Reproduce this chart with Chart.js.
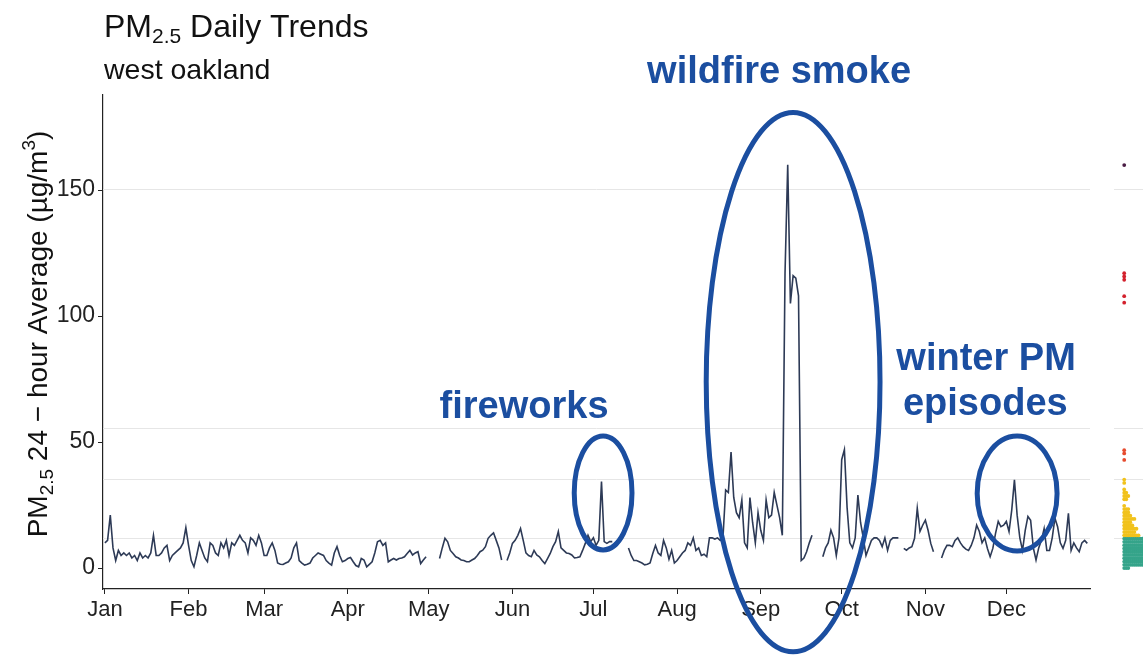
<!DOCTYPE html>
<html lang="en">
<head>
  <meta charset="UTF-8">
  <title>PM2.5 Daily Trends</title>
  <script src="https://cdn.jsdelivr.net/npm/chart.js"></script>
  <style>
    html, body { margin: 0; padding: 0; background: #fff; overflow: hidden; }
    #wrap { position: relative; width: 1147px; height: 655px; }
    #mainChart { position: absolute; left: 0; top: 0; }
    #stripChart { position: absolute; left: 1110px; top: 0; }
  </style>
</head>
<body>
<div id="wrap">
  <canvas id="mainChart" width="1147" height="655"></canvas>
  <canvas id="stripChart" width="37" height="655"></canvas>
</div>

<script>
  // axis labels and ticks
  var monthLabels = ['Jan', 'Feb', 'Mar', 'Apr', 'May', 'Jun', 'Jul', 'Aug', 'Sep', 'Oct', 'Nov', 'Dec'];
  var monthStarts = [0, 31, 59, 90, 120, 151, 181, 212, 243, 273, 304, 334];
  var yTicks = [0, 50, 100, 150];

  // AQI breakpoints (faint guide lines) and category colours
  var aqiBreaks = [12, 35.4, 55.4, 150.4];
  var aqiColors = ['#35a48a', '#f1c21c', '#e64b2e', '#d3202c', '#4a1c44'];

  // daily 24-hour average PM2.5, one array per month (null = missing day)
  var pmJan = [10, 11, 21, 8, 3, 7, 5, 6, 5, 6, 4, 5, 3, 6, 4, 5, 4, 6, 13, 5, 5, 6, 8, 9, 3, 5, 6, 7, 8, 10, 16];
  var pmFeb = [9, 3, 0.5, 5, 10, 7, 4, 2.5, 10, 9, 6, 5, 10, 8, 11, 5, 10, 9, 11, 13, 11, 10, 6, 12, 11, 9, 13, 10];
  var pmMar = [5, 5, 8, 10, 7, 2, 1.5, 1.4, 2, 2.5, 4, 8, 10, 3, 2, 1.2, 1.5, 2, 4, 5, 6, 5.5, 5, 3, 2, 1.2, 6, 8.5, 5, 2.5, 3];
  var pmApr = [3.8, 4.2, 2.5, 1, 0.5, 3.8, 3.2, 0.5, 1.5, 2.5, 6, 10.4, 11, 9, 10, 2.5, 3.2, 3.8, 3.2, 3.8, 4, 4.5, 5.8, 7, 5.2, 6, 6.5, 1.8, 3.2, 4.5];
  var pmMay = [null, null, null, null, 3.8, 8, 11.8, 10.4, 7, 5.8, 4.5, 4, 3.2, 3, 2.5, 2.5, 3.2, 3.8, 5, 6.5, 7.1, 8.5, 11.8, 13, 14, 11, 8, 3.2, null, 3, 6];
  var pmJun = [9.8, 11, 13, 15.7, 11, 6, 5, 4.5, 7, 5.2, 4.5, 3, 1.8, 3.8, 5.8, 8.5, 10.5, 14.5, 8, 7, 6, 5.8, 5.2, 4, 4.2, 4.5, 7, 9.8, 13, 10.5];
  var pmJul = [12, 9, 11, 34.3, 10.5, 9.8, 10.5, 10.5, null, null, null, null, null, 8, 5, 3, 3, 2.5, 2, 1.3, 1.5, 2, 5.8, 9, 6, 5, 11, 8, 3.5, 7, 2];
  var pmAug = [3, 4.5, 6, 7, 10, 9, 12, 7, 8, 5, 5.5, 4.5, 12, 12, 11.5, 12, 11, 12, 31, 30, 46, 28, 22, 20, 27, 10, 8, 28, 18, 10, 22];
  var pmSep = [15, 11, 27, 20, 21, 30, 25, 20, 13, 117, 160, 105, 116, 115, 108, 3, 4, 6.5, 10, 13, null, null, null, 4.5, 8, 10, 15, 12, 5, 12];
  var pmOct = [43, 47, 24, 10, 8, 12, 29, 18, 12, 5, 8, 11, 12, 12, 11, 8.5, 12, 7, 11, 12, 12, 12, null, 7.8, 7.1, 8, 8.5, 11.8, 23.7, 14.5, 17];
  var pmNov = [19, 15, 9.8, 6.5, null, null, 4, 7, 9, 9, 8.5, 11, 12, 10, 8.5, 7.5, 7, 9, 12, 17, 14.5, 10, 12, 7.8, 4.5, 7.8, 13.8, 18.5, 16.4, 17];
  var pmDec = [18.5, 14.5, 23, 35, 21, 12, 7, 15, 20.5, 19, 8, 3.2, 8, 11, 15.7, 7, 7, 12, 19.8, 16.4, 10, 7.8, 11, 21.7, 7, 10, 8, 6.5, 10, 11, 9.8];

  // callouts: ellipse centre (day, value) and half sizes (days, value units)
  var calloutDay = [184.6, 255, 338];
  var calloutValue = [29.8, 73.8, 29.6];
  var calloutHalfDays = [10.7, 32.2, 14.8];
  var calloutHalfValues = [22.6, 107, 22.8];

  // callout labels: text and anchor (day, value of baseline)
  var noteText = ['wildfire smoke', 'fireworks', 'winter PM', 'episodes'];
  var noteDay = [249.8, 155.3, 326.5, 326.2];
  var noteValue = [192.5, 59.5, 78.6, 60.7];

  var pm = [].concat(pmJan, pmFeb, pmMar, pmApr, pmMay, pmJun, pmJul, pmAug, pmSep, pmOct, pmNov, pmDec);

  var FONT = "'Liberation Sans', Arial, sans-serif";
  var BLUE = '#1b4ea0';
  var Y_MIN = -8.3, Y_MAX = 187.7;

  function aqiColor(v) {
    for (var i = 0; i < aqiBreaks.length; i++) {
      if (v <= aqiBreaks[i]) return aqiColors[i];
    }
    return aqiColors[aqiColors.length - 1];
  }

  // faint lines at the AQI breakpoints
  var breakLines = {
    id: 'breakLines',
    beforeDatasetsDraw: function (chart) {
      var ctx = chart.ctx, a = chart.chartArea, y = chart.scales.y;
      ctx.save();
      ctx.strokeStyle = '#e6e6e6';
      ctx.lineWidth = 1;
      aqiBreaks.forEach(function (b) {
        var py = Math.round(y.getPixelForValue(b)) + 0.5;
        ctx.beginPath();
        ctx.moveTo(a.left, py);
        ctx.lineTo(a.right, py);
        ctx.stroke();
      });
      ctx.restore();
    }
  };

  // draw a run of text pieces (size, baseline shift) starting at x
  function richText(ctx, parts, x, y) {
    parts.forEach(function (p) {
      ctx.font = p.size + 'px ' + FONT;
      ctx.fillText(p.t, x, y + (p.dy || 0));
      x += ctx.measureText(p.t).width;
    });
  }
  function richWidth(ctx, parts) {
    var w = 0;
    parts.forEach(function (p) {
      ctx.font = p.size + 'px ' + FONT;
      w += ctx.measureText(p.t).width;
    });
    return w;
  }

  var decorations = {
    id: 'decorations',
    afterDraw: function (chart) {
      var ctx = chart.ctx, xs = chart.scales.x, ys = chart.scales.y;
      ctx.save();

      // title + subtitle
      ctx.fillStyle = '#111';
      ctx.textBaseline = 'alphabetic';
      ctx.textAlign = 'left';
      richText(ctx, [{ t: 'PM', size: 32 }, { t: '2.5', size: 21, dy: 6 }, { t: ' Daily Trends', size: 32 }], 104, 37);
      ctx.font = '28.5px ' + FONT;
      ctx.fillText('west oakland', 104, 79);

      // y axis title, rotated
      var yParts = [
        { t: 'PM', size: 28 }, { t: '2.5', size: 19, dy: 6 },
        { t: ' 24 \u2212 hour Average (\u00b5g/m', size: 28 }, { t: '3', size: 19, dy: -12 },
        { t: ')', size: 28 }
      ];
      ctx.save();
      ctx.translate(47, 334);
      ctx.rotate(-Math.PI / 2);
      richText(ctx, yParts, -richWidth(ctx, yParts) / 2, 0);
      ctx.restore();

      // callout ellipses
      ctx.strokeStyle = BLUE;
      ctx.lineWidth = 5;
      for (var i = 0; i < calloutDay.length; i++) {
        var cx = xs.getPixelForValue(calloutDay[i]);
        var cy = ys.getPixelForValue(calloutValue[i]);
        var rx = xs.getPixelForValue(calloutDay[i] + calloutHalfDays[i]) - cx;
        var ry = cy - ys.getPixelForValue(calloutValue[i] + calloutHalfValues[i]);
        ctx.beginPath();
        ctx.ellipse(cx, cy, rx, ry, 0, 0, Math.PI * 2);
        ctx.stroke();
      }

      // callout labels
      ctx.fillStyle = BLUE;
      ctx.textAlign = 'center';
      ctx.font = 'bold 38px ' + FONT;
      for (var j = 0; j < noteText.length; j++) {
        ctx.fillText(noteText[j], xs.getPixelForValue(noteDay[j]), ys.getPixelForValue(noteValue[j]));
      }
      ctx.restore();
    }
  };

  var mainChart = new Chart(document.getElementById('mainChart'), {
    type: 'line',
    data: {
      datasets: [{
        data: pm.map(function (v, i) { return { x: i, y: v }; }),
        borderColor: '#2d3a56',
        borderWidth: 1.6,
        pointRadius: 0,
        tension: 0,
        spanGaps: false,
        fill: false
      }]
    },
    options: {
      responsive: false,
      animation: false,
      layout: { padding: { top: 95, right: 57, bottom: 0, left: 0 } },
      plugins: { legend: { display: false }, tooltip: { enabled: false } },
      scales: {
        x: {
          type: 'linear',
          min: -0.7,
          max: 365,
          afterFit: function (s) { s.height = 66; },
          afterBuildTicks: function (s) { s.ticks = monthStarts.map(function (v) { return { value: v }; }); },
          ticks: {
            autoSkip: false,
            maxRotation: 0,
            padding: 3,
            color: '#222',
            font: { family: FONT, size: 22 },
            callback: function (v) { return monthLabels[monthStarts.indexOf(v)]; }
          },
          grid: { drawOnChartArea: false, drawTicks: true, tickLength: 5, color: '#222' },
          border: { display: true, color: '#222', width: 1.2 }
        },
        y: {
          min: Y_MIN,
          max: Y_MAX,
          afterFit: function (s) { s.width = 103; },
          afterBuildTicks: function (s) { s.ticks = yTicks.map(function (v) { return { value: v }; }); },
          ticks: { padding: 3, color: '#222', font: { family: FONT, size: 23 } },
          grid: { drawOnChartArea: false, drawTicks: true, tickLength: 5, color: '#222' },
          border: { display: true, color: '#222', width: 1.2 }
        }
      }
    },
    plugins: [breakLines, decorations]
  });

  // dot plot strip on the right: one dot per day, stacked in value bins
  var binWidth = 1.3;
  var bins = {};
  pm.filter(function (v) { return v !== null; })
    .sort(function (a, b) { return a - b; })
    .forEach(function (v) {
      var k = Math.round(v / binWidth);
      (bins[k] = bins[k] || []).push(v);
    });
  var dots = [], dotColors = [];
  Object.keys(bins).forEach(function (k) {
    bins[k].forEach(function (v, i) {
      dots.push({ x: i, y: k * binWidth });
      dotColors.push(aqiColor(v));
    });
  });

  var area = mainChart.chartArea;
  new Chart(document.getElementById('stripChart'), {
    type: 'scatter',
    data: {
      datasets: [{
        data: dots,
        pointRadius: 1.9,
        pointBorderWidth: 0,
        pointBackgroundColor: dotColors
      }]
    },
    options: {
      responsive: false,
      animation: false,
      layout: { padding: { top: area.top, bottom: 655 - area.bottom, left: 0, right: 0 } },
      plugins: { legend: { display: false }, tooltip: { enabled: false } },
      scales: {
        x: { display: false, min: -5, max: 9.2 },
        y: { display: false, min: Y_MIN, max: Y_MAX }
      }
    },
    plugins: [breakLines]
  });
</script>
</body>
</html>
